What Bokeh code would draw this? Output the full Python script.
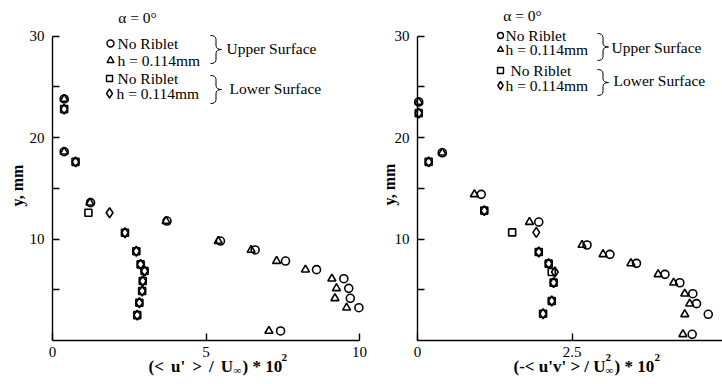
import math
from bokeh.plotting import figure
from bokeh.layouts import row
from bokeh.models import Range1d, FixedTicker
from bokeh.core.properties import value
from bokeh.embed import file_html
from bokeh.resources import INLINE

# Boundary-layer profiles at alpha = 0 deg, y in mm.
# Left panel: streamwise turbulence intensity (<u'>/U_inf) * 10^2
u_up_y = [0.94, 3.23, 4.16, 5.14, 6.09, 6.98, 7.83, 8.92, 9.8, 11.77, 13.58, 18.6, 23.8]
u_up_norib = [7.43, 9.98, 9.7, 9.65, 9.49, 8.6, 7.59, 6.6, 5.47, 3.73, 1.24, 0.38, 0.38]
u_up_rib = [7.05, 9.58, 9.2, 9.25, 9.1, 8.24, 7.3, 6.47, 5.4, 3.7, 1.22, 0.38, 0.38]
u_lo_y = [2.5, 3.72, 4.88, 5.86, 6.85, 7.5, 8.8, 10.62, 12.59, 17.6, 22.8]
u_lo_norib = [2.76, 2.83, 2.92, 2.94, 3.0, 2.87, 2.73, 2.36, 1.17, 0.75, 0.38]
u_lo_rib = [2.76, 2.83, 2.92, 2.94, 3.0, 2.87, 2.73, 2.36, 1.86, 0.75, 0.38]

# Right panel: Reynolds shear stress (-<u'v'>/U_inf^2) * 10^2
uv_up_y = [0.61, 2.58, 3.63, 4.61, 5.69, 6.52, 7.6, 8.49, 9.41, 11.67, 14.4, 18.5, 23.5]
uv_up_norib = [4.44, 4.7, 4.51, 4.45, 4.24, 4.0, 3.54, 3.11, 2.74, 1.96, 1.03, 0.4, 0.02]
uv_up_rib = [4.29, 4.32, 4.4, 4.32, 4.14, 3.89, 3.45, 3.0, 2.66, 1.81, 0.92, 0.4, 0.02]
uv_lo_y = [2.64, 3.89, 5.7, 6.75, 7.57, 8.72, 10.65, 12.8, 17.6, 22.4]
uv_lo_norib = [2.03, 2.17, 2.2, 2.17, 2.12, 1.96, 1.53, 1.08, 0.18, 0.02]
uv_lo_rib = [2.03, 2.17, 2.2, 2.22, 2.12, 1.96, 1.92, 1.08, 0.18, 0.02]

y_ticks = [5, 10, 15, 20, 25, 30]
u_ticks = [0, 5, 10]
uv_ticks = [0, 2.5, 5]

series_names = ["No Riblet", "h = 0.114mm", "No Riblet", "h = 0.114mm"]
surface_names = ["Upper Surface", "Lower Surface"]

FONT = "Liberation Serif"
H = 384
AXIS_PY = 340          # canvas row of the y = 0 axis line
KY = AXIS_PY / 33.5    # pixels per mm
SP = "\u2006"          # narrow space used in the axis titles

MARK = dict(
    circle=dict(marker="circle", size=8),
    triangle=dict(marker="triangle", size=8),
    square=dict(marker="square", size=7),
    diamond=dict(marker="diamond", size=10),
)


class Panel:
    """A figure whose frame fills the whole canvas; axes sit at x=0 / y=0."""

    def __init__(self, width, offset, axis_px, kx, x_end, xticks, xlabels):
        self.offset, self.axis_px, self.kx = offset, axis_px, kx
        x0, _ = self.to(offset, 0)
        x1, _ = self.to(offset + width, 0)
        _, y0 = self.to(0, H)
        p = figure(width=width, height=H, min_border=0,
                   x_range=Range1d(x0, x1), y_range=Range1d(y0, AXIS_PY / KY),
                   output_backend="svg", toolbar_location=None)
        p.outline_line_color = None
        p.grid.visible = False
        p.background_fill_color = "white"
        p.border_fill_color = "white"
        p.xaxis.ticker = FixedTicker(ticks=xticks)
        p.xaxis.major_label_overrides = xlabels
        p.xaxis.bounds = (0, x_end)
        p.xaxis.fixed_location = 0
        p.yaxis.ticker = FixedTicker(ticks=y_ticks)
        p.yaxis.major_label_overrides = {5: "", 15: "", 25: ""}
        p.yaxis.bounds = (0, 30)
        p.yaxis.fixed_location = 0
        for ax in (p.xaxis[0], p.yaxis[0]):
            ax.axis_line_width = 1.4
            ax.axis_line_color = "black"
            ax.major_tick_in = 7
            ax.major_tick_out = 0
            ax.major_tick_line_width = 1.4
            ax.major_tick_line_color = "black"
            ax.minor_tick_line_color = None
            ax.major_label_text_font = FONT
            ax.major_label_text_font_size = "15px"
            ax.major_label_text_color = "black"
        p.yaxis.major_label_standoff = 8
        p.xaxis.major_label_standoff = 6
        self.p = p

    def to(self, px, py):
        """Canvas pixel -> data coordinates (for annotations only)."""
        return (px - self.axis_px) / self.kx, (AXIS_PY - py) / KY

    def series(self, xs, ys, kind):
        self.p.scatter(xs, ys, line_color="black", line_width=1.6, fill_color=None,
                       **MARK[kind])

    def text(self, px, py, s, size="15.5px", align="left", baseline="middle",
             bold=False, angle=0.0):
        x, y = self.to(px, py)
        self.p.text([x], [y], text=[s], text_font=value(FONT), text_font_size=size,
                    text_font_style="bold" if bold else "normal", angle=angle,
                    text_align=align, text_baseline=baseline, text_color="black")

    def brace(self, x0, ytop, ybot, w=11):
        ym = (ytop + ybot) / 2
        xm = x0 + w / 2
        q = 4
        curves = [
            ((x0, ytop), (xm, ytop + q), (xm, ytop)),
            ((xm, ym - q), (x0 + w, ym), (xm, ym)),
            ((x0 + w, ym), (xm, ym + q), (xm, ym)),
            ((xm, ybot - q), (x0, ybot), (xm, ybot)),
        ]
        for a, b, c in curves:
            (ax_, ay_), (bx_, by_), (cx_, cy_) = self.to(*a), self.to(*b), self.to(*c)
            self.p.quadratic(x0=ax_, y0=ay_, x1=bx_, y1=by_, cx=cx_, cy=cy_,
                             line_color="black", line_width=1)
        for ya, yb in ((ytop + q, ym - q), (ym + q, ybot - q)):
            (sx0, sy0), (sx1, sy1) = self.to(xm, ya), self.to(xm, yb)
            self.p.segment(x0=sx0, y0=sy0, x1=sx1, y1=sy1, line_color="black",
                           line_width=1)

    def legend(self, mx, tx, rows, msize, brace_x, braces, surf_x, surf_y, alpha_xy):
        kinds = ["circle", "triangle", "square", "diamond"]
        for ry, kind, name, t_x, m_x, ms in zip(rows, kinds, series_names, tx, mx, msize):
            x, y = self.to(m_x, ry)
            self.p.scatter([x], [y], line_color="black", line_width=1.4, fill_color=None,
                           marker=MARK[kind]["marker"], size=ms)
            self.text(t_x, ry, name)
        for (yt, yb), sx_, sy_, name in zip(braces, surf_x, surf_y, surface_names):
            self.brace(brace_x, yt, yb)
            self.text(sx_, sy_, name)
        self.text(alpha_xy[0], alpha_xy[1], "\u03b1 = 0\u00b0", align="center")


# ---- left panel: canvas x 0..375, y axis at x = 52, x = 10 at 359 ----
left = Panel(375, 0, 52, 30.7, 10, u_ticks, {})
left.series(u_up_norib, u_up_y, "circle")
left.series(u_up_rib, u_up_y, "triangle")
left.series(u_lo_norib, u_lo_y, "square")
left.series(u_lo_rib, u_lo_y, "diamond")
left.legend(mx=[110, 110, 109, 109], tx=[117, 117, 117, 116], rows=[43, 60, 78, 93],
            msize=[7, 7, 6, 9], brace_x=210, braces=[(35, 63), (75, 103)],
            surf_x=[226, 229], surf_y=[48, 88], alpha_xy=(137, 17))
left.text(17, 185, "y, mm", size="16px", align="center", bold=True, angle=math.pi / 2)
left.text(148, 366, f"(< {SP}u' {SP}> {SP}/ {SP}U", size="17px", baseline="alphabetic",
          bold=True)
left.text(233, 369, "\u221e", size="11px", baseline="alphabetic", bold=True)
left.text(242, 366, ") * 10", size="17px", baseline="alphabetic", bold=True)
left.text(281, 357, "2", size="11px", baseline="alphabetic", bold=True)

# ---- right panel: canvas x 375..722, y axis at x = 417, axis cut at the edge ----
R_END = 4.93
right = Panel(347, 375, 417, 305 / R_END, R_END, uv_ticks, {0: "0", 2.5: "2.5", 5: "5"})
right.series(uv_up_norib, uv_up_y, "circle")
right.series(uv_up_rib, uv_up_y, "triangle")
right.series(uv_lo_norib, uv_lo_y, "square")
right.series(uv_lo_rib, uv_lo_y, "diamond")
right.legend(mx=[500, 500, 500, 500], tx=[505, 505, 510, 505], rows=[35, 49, 70, 85],
             msize=[6, 6, 6, 8], brace_x=597, braces=[(33, 60), (69, 95)],
             surf_x=[611, 613], surf_y=[46.5, 80], alpha_xy=(522, 15))
right.text(389, 184, "y, mm", size="16px", align="center", bold=True, angle=math.pi / 2)
right.text(513, 366, "(-< u'v' > / U", size="17px", baseline="alphabetic", bold=True)
right.text(605, 369, "\u221e", size="11px", baseline="alphabetic", bold=True)
right.text(605, 357, "2", size="11px", baseline="alphabetic", bold=True)
right.text(614, 366, ") * 10", size="17px", baseline="alphabetic", bold=True)
right.text(654, 357, "2", size="11px", baseline="alphabetic", bold=True)

layout = row(left.p, right.p)
open("out.html", "w").write(file_html(layout, INLINE))
